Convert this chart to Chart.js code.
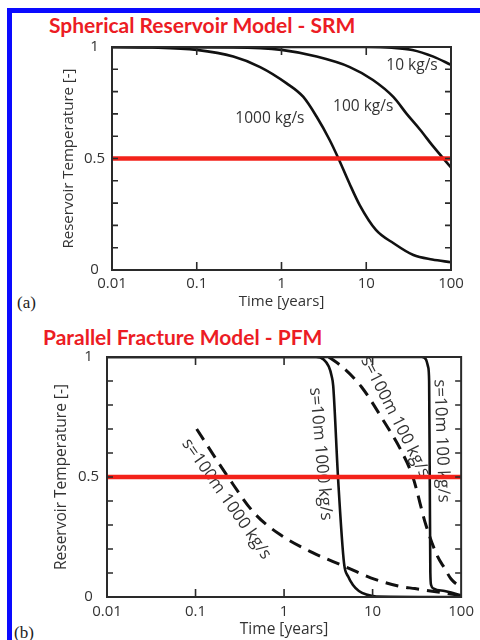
<!DOCTYPE html>
<html><head><meta charset="utf-8">
<script src="https://cdn.jsdelivr.net/npm/chart.js@4.4.1/dist/chart.umd.min.js"></script>
<style>
html,body{margin:0;padding:0;background:#fff;width:480px;height:640px;overflow:hidden;}
#wrap{position:relative;width:480px;height:640px;background:#fff;}
.bar{position:absolute;background:#0a0aff;}
.title{position:absolute;color:#ec1c24;font-family:Lato,sans-serif;font-weight:bold;font-size:21px;white-space:nowrap;line-height:1;}
.tag{position:absolute;font-family:"Liberation Serif",serif;font-size:17px;color:#222;line-height:1;}
canvas{position:absolute;left:0;}
</style></head><body>
<div id="wrap">
<div class="bar" style="left:7px;top:8px;width:473px;height:5px"></div>
<div class="bar" style="left:7px;top:8px;width:5px;height:632px"></div>
<div class="title" style="left:49px;top:14px">Spherical Reservoir Model - SRM</div>
<div class="title" style="left:43px;top:326px">Parallel Fracture Model - PFM</div>
<div class="tag" style="left:17px;top:294px">(a)</div>
<div class="tag" style="left:14px;top:624px">(b)</div>
<canvas id="c1" width="480" height="316" style="top:0px"></canvas>
<canvas id="c2" width="480" height="324" style="top:316px"></canvas>
</div>
<script>
// ---- axis ticks ----
const xTickValues = [0.01, 0.1, 1, 10, 100];
const xTickLabels = ['0.01', '0.1', '1', '10', '100'];
const yTickValues = [0, 0.1, 0.2, 0.3, 0.4, 0.5, 0.6, 0.7, 0.8, 0.9, 1];
const yTickLabels = ['0', '', '', '', '', '0.5', '', '', '', '', '1'];

// ---- (a) Spherical Reservoir Model ----
const srmTime10 = [0.01, 10, 20, 35, 62, 100];
const srmTemp10 = [1, 1, 0.997, 0.987, 0.957, 0.92];
const srmTime100 = [0.01, 0.27, 1, 2.6, 6.4, 12, 21, 30, 43, 62, 100];
const srmTemp100 = [1, 0.998, 0.987, 0.957, 0.91, 0.852, 0.775, 0.70, 0.63, 0.553, 0.46];
const srmTime1000 = [0.01, 0.03, 0.1, 0.27, 0.56, 1.15, 1.8, 2.6, 3.7, 4.7, 6.3, 8.4, 13, 21, 36, 60, 100];
const srmTemp1000 = [1, 0.998, 0.987, 0.957, 0.91, 0.837, 0.777, 0.687, 0.583, 0.5, 0.39, 0.29, 0.18, 0.12, 0.067, 0.047, 0.035];

// ---- (b) Parallel Fracture Model ----
const pfmTimeS10m1000 = [0.01, 2.3, 2.8, 3.2, 3.45, 3.59, 4.08, 4.76, 5.3, 6.0, 7.0, 8.5, 11, 100];
const pfmTempS10m1000 = [1, 1, 0.99, 0.96, 0.92, 0.88, 0.49, 0.14, 0.085, 0.05, 0.025, 0.01, 0.002, 0];
const pfmTimeS10m100 = [0.01, 35.9, 40, 42.3, 43.5, 44.2, 44.9, 45.8, 49, 65, 90, 100];
const pfmTempS10m100 = [1, 1, 0.99, 0.96, 0.9, 0.5, 0.1, 0.05, 0.035, 0.025, 0.012, 0.006];
const pfmTimeS100m1000 = [0.103, 0.233, 0.46, 0.9, 2.1, 4.8, 9.5, 20, 30, 45, 91, 100];
const pfmTempS100m1000 = [0.70, 0.50, 0.35, 0.26, 0.185, 0.128, 0.08, 0.045, 0.035, 0.025, 0.008, 0.005];
const pfmTimeS100m100 = [3.2, 4.5, 7.5, 13, 21, 28.5, 40, 54, 65, 77, 100];
const pfmTempS100m100 = [1.0, 0.96, 0.875, 0.74, 0.61, 0.5, 0.3, 0.17, 0.12, 0.075, 0.04];

// ---- 50% threshold line ----
const thresholdTime = [0.01, 100];
const thresholdTemp = [0.5, 0.5];

// ---- curve annotations (time, temperature, angle in degrees) ----
const srmLabelText = ['10 kg/s', '100 kg/s', '1000 kg/s'];
const srmLabelTime = [34.7, 9.2, 0.73];
const srmLabelTemp = [0.915, 0.735, 0.677];
const srmLabelAngle = [0, 0, 0];
const pfmLabelText = ['s=10m 1000 kg/s', 's=10m 100 kg/s', 's=100m 100 kg/s', 's=100m 1000 kg/s'];
const pfmLabelTime = [2.58, 60, 18.0, 0.223];
const pfmLabelTemp = [0.596, 0.65, 0.75, 0.408];
const pfmLabelAngle = [85, 88, 63, 55];

const FONT = "'Open Sans', sans-serif";
const TEXT = '#333';

function pts(t, v) { return t.map((x, i) => ({x: x, y: v[i]})); }

function redLine() {
  return {data: pts(thresholdTime, thresholdTemp), borderColor: '#f3221a', borderWidth: 4.5, pointRadius: 0};
}
function curve(t, v, dashed) {
  return {data: pts(t, v), borderColor: '#111', borderWidth: dashed ? 3 : 2.6, pointRadius: 0,
    cubicInterpolationMode: 'monotone', borderDash: dashed ? [13, 8] : []};
}

const framePlugin = {
  id: 'frame',
  beforeDatasetsDraw(chart, args, opts) {
    const ctx = chart.ctx, xs = chart.scales.x, ys = chart.scales.y;
    ctx.save();
    ctx.fillStyle = TEXT;
    ctx.font = opts.size + 'px ' + FONT;
    ctx.textAlign = 'center';
    ctx.textBaseline = 'middle';
    opts.text.forEach((s, i) => {
      ctx.save();
      ctx.translate(xs.getPixelForValue(opts.time[i]), ys.getPixelForValue(opts.temp[i]));
      ctx.rotate(opts.angle[i] * Math.PI / 180);
      ctx.fillText(s, 0, 0);
      ctx.restore();
    });
    ctx.restore();
  },
  afterDatasetsDraw(chart) {
    const ctx = chart.ctx, xs = chart.scales.x, ys = chart.scales.y;
    const {left, right, top, bottom} = chart.chartArea;
    ctx.save();
    ctx.strokeStyle = '#2a2a2a';
    ctx.lineWidth = 1.6;
    ctx.beginPath();
    ys.ticks.forEach(t => {
      const y = ys.getPixelForValue(t.value);
      if (t.value <= 0 || t.value >= 1) return;
      ctx.moveTo(left, y); ctx.lineTo(left + 6, y);
      ctx.moveTo(right, y); ctx.lineTo(right - 6, y);
    });
    xs.ticks.forEach(t => {
      if (t.value <= 0.01 || t.value >= 100) return;
      const x = xs.getPixelForValue(t.value);
      ctx.moveTo(x, bottom); ctx.lineTo(x, bottom - 8);
      ctx.moveTo(x, top); ctx.lineTo(x, top + 8);
    });
    ctx.stroke();
    ctx.lineWidth = 2;
    ctx.strokeRect(left, top, right - left, bottom - top);
    ctx.restore();
  }
};

function makeOptions(cfg, labels) {
  return {
    responsive: false,
    animation: false,
    devicePixelRatio: 1,
    layout: {padding: cfg.pad},
    plugins: {legend: {display: false}, tooltip: {enabled: false}, title: {display: false}, frame: labels},
    scales: {
      x: {
        type: 'logarithmic', min: 0.01, max: 100,
        afterBuildTicks: s => { s.ticks = xTickValues.map(v => ({value: v})); },
        afterFit: s => { s.height = cfg.xh; },
        ticks: {callback: (v, i) => xTickLabels[i], font: {family: FONT, size: 15}, color: TEXT,
          padding: cfg.xpad, maxRotation: 0, autoSkip: false},
        grid: {display: false, drawTicks: false},
        border: {display: false},
        title: {display: true, text: 'Time [years]', font: {family: FONT, size: cfg.ts}, color: TEXT,
          padding: {top: 0, bottom: cfg.xtp}}
      },
      y: {
        type: 'linear', min: 0, max: 1,
        afterBuildTicks: s => { s.ticks = yTickValues.map(v => ({value: v})); },
        afterFit: s => { s.width = cfg.yw; },
        ticks: {callback: (v, i) => yTickLabels[i], font: {family: FONT, size: 15}, color: TEXT,
          padding: cfg.ypad, crossAlign: 'center', autoSkip: false},
        grid: {display: false, drawTicks: false},
        border: {display: false},
        title: {display: true, text: 'Reservoir Temperature [-]', font: {family: FONT, size: cfg.ts}, color: TEXT,
          padding: {top: 0, bottom: 0}}
      }
    }
  };
}

new Chart(document.getElementById('c1'), {
  type: 'line',
  data: {datasets: [
    redLine(),
    curve(srmTime10, srmTemp10, false),
    curve(srmTime100, srmTemp100, false),
    curve(srmTime1000, srmTemp1000, false)
  ]},
  options: makeOptions({pad: {left: 60, right: 29, top: 47, bottom: 0}, xh: 46, yw: 52, xpad: 5, xtp: 5, ypad: 7, ts: 15},
    {text: srmLabelText, time: srmLabelTime, temp: srmLabelTemp, angle: srmLabelAngle, size: 15.5}),
  plugins: [framePlugin]
});

new Chart(document.getElementById('c2'), {
  type: 'line',
  data: {datasets: [
    redLine(),
    curve(pfmTimeS10m1000, pfmTempS10m1000, false),
    curve(pfmTimeS10m100, pfmTempS10m100, false),
    curve(pfmTimeS100m1000, pfmTempS100m1000, true),
    curve(pfmTimeS100m100, pfmTempS100m100, true)
  ]},
  options: makeOptions({pad: {left: 52, right: 13, top: 41, bottom: 0}, xh: 43, yw: 55, xpad: 6, xtp: 1, ypad: 8, ts: 15.5},
    {text: pfmLabelText, time: pfmLabelTime, temp: pfmLabelTemp, angle: pfmLabelAngle, size: 17}),
  plugins: [framePlugin]
});
</script>
</body></html>
